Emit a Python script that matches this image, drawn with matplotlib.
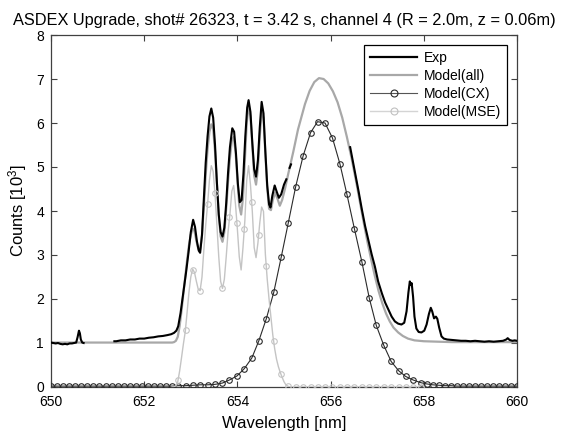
import matplotlib
matplotlib.use("Agg")
import matplotlib.pyplot as plt
from matplotlib.lines import Line2D

plt.rcParams['font.family'] = ['Liberation Sans', 'DejaVu Sans']
plt.rcParams['mathtext.default'] = 'regular'

NaN = float('nan')

# ---------------- data ----------------
title = "ASDEX Upgrade, shot# 26323, t = 3.42 s, channel 4 (R = 2.0m, z = 0.06m)"
xlabel = "Wavelength [nm]"
ylabel = "Counts [10$^3$]"
xticks = [650, 652, 654, 656, 658, 660]
yticks = [0, 1, 2, 3, 4, 5, 6, 7, 8]
labels = ["Exp", "Model(all)", "Model(CX)", "Model(MSE)"]

# experimental spectrum (NaN = no data shown)
exp_wl = [650.00, 650.05, 650.10, 650.15, 650.20, 650.25, 650.30, 650.35, 650.40, 650.45,
          650.50, 650.54, 650.57, 650.60, 650.62, 650.64, 650.67, 650.70, 650.71, 651.36,
          651.40, 651.50, 651.60, 651.70, 651.80, 651.90,
          652.00, 652.10, 652.20, 652.30, 652.40, 652.50, 652.58, 652.64, 652.69, 652.73,
          652.78, 652.84, 652.90, 652.95, 653.00, 653.05, 653.09, 653.13, 653.17, 653.20,
          653.24, 653.28, 653.32, 653.36, 653.40, 653.44, 653.48, 653.52, 653.56, 653.60,
          653.64, 653.68, 653.72, 653.76, 653.80, 653.84, 653.89, 653.93, 653.97, 654.01,
          654.05, 654.09, 654.13, 654.17, 654.21, 654.24, 654.28, 654.32, 654.36, 654.40,
          654.44, 654.48, 654.52, 654.56, 654.60, 654.64, 654.68, 654.71, 654.75, 654.80,
          654.84, 654.89, 654.94, 655.00, 655.05, 655.06, 655.12, 655.15, 655.16,
          656.42, 656.52, 656.60,
          656.67, 656.74, 656.81, 656.88, 656.95, 657.02, 657.10, 657.17, 657.24, 657.31,
          657.38, 657.45, 657.52, 657.58, 657.63, 657.67, 657.70, 657.72, 657.74, 657.77,
          657.80, 657.84, 657.89, 657.95, 658.01, 658.06, 658.11, 658.15, 658.18, 658.22,
          658.26, 658.29, 658.33, 658.38, 658.43, 658.50, 658.60, 658.70, 658.80, 658.90,
          659.00, 659.10, 659.20, 659.30, 659.40, 659.50, 659.60, 659.70, 659.77, 659.80,
          659.84, 659.90, 659.95, 660.00]
exp_counts = [1.01, 1.00, 0.99, 1.00, 0.98, 0.97, 0.98, 0.97, 0.99, 0.99,
              1.00, 1.01, 1.13, 1.28, 1.22, 1.08, 1.01, 1.00, NaN, 1.04,
              1.04, 1.06, 1.06, 1.08, 1.08, 1.10,
              1.10, 1.12, 1.13, 1.15, 1.16, 1.18, 1.20, 1.23, 1.28, 1.38,
              1.68, 2.15, 2.62, 3.05, 3.52, 3.80, 3.64, 3.32, 3.10, 3.05,
              3.45, 4.30, 5.10, 5.70, 6.15, 6.33, 6.12, 5.50, 4.65, 3.92,
              3.52, 3.42, 3.62, 4.18, 4.88, 5.45, 5.88, 5.80, 5.30, 4.62,
              4.20, 4.25, 4.85, 5.70, 6.35, 6.52, 6.25, 5.55, 4.95, 4.78,
              5.15, 5.90, 6.48, 6.22, 5.35, 4.58, 4.15, 4.08, 4.35, 4.58,
              4.45, 4.30, 4.38, 4.60, 4.72, NaN, 4.98, 5.06, NaN,
              5.45, 4.90, 4.45,
              4.04, 3.66, 3.34, 3.02, 2.74, 2.40, 2.13, 1.92, 1.76, 1.60,
              1.49, 1.44, 1.42, 1.46, 1.72, 2.15, 2.40, 2.32, 2.36, 2.05,
              1.60, 1.33, 1.25, 1.24, 1.28, 1.42, 1.66, 1.80, 1.72, 1.56,
              1.60, 1.55, 1.35, 1.15, 1.10, 1.08, 1.07, 1.06, 1.05, 1.05,
              1.04, 1.05, 1.04, 1.03, 1.04, 1.03, 1.04, 1.05, 1.08, 1.11,
              1.07, 1.05, 1.06, 1.05]

all_wl = [650.00, 652.60, 652.64, 652.68, 652.72, 652.76, 652.80, 652.84, 652.88, 652.92,
          652.96, 653.00, 653.04, 653.08, 653.12, 653.16, 653.20, 653.24, 653.28, 653.32,
          653.36, 653.40, 653.44, 653.48, 653.52, 653.56, 653.60, 653.64, 653.68, 653.72,
          653.76, 653.80, 653.84, 653.88, 653.92, 653.96, 654.00, 654.04, 654.08, 654.12,
          654.16, 654.20, 654.24, 654.28, 654.32, 654.36, 654.40, 654.44, 654.48, 654.52,
          654.56, 654.60, 654.64, 654.68, 654.72, 654.76, 654.81, 654.86, 654.91, 654.96,
          655.02, 655.09, 655.20, 655.30, 655.45, 655.55, 655.65, 655.75, 655.85, 655.95,
          656.05, 656.15, 656.25, 656.35, 656.45, 656.55, 656.63, 656.71, 656.79, 656.87,
          656.95, 657.03, 657.11, 657.19, 657.27, 657.35, 657.45, 657.55, 657.66, 657.80,
          658.00, 658.30, 658.60, 660.00]
all_counts = [1.01, 1.01, 1.02, 1.05, 1.14, 1.38, 1.72, 2.12, 2.50, 2.88,
              3.22, 3.46, 3.60, 3.54, 3.32, 3.14, 3.12, 3.45, 4.10, 4.82,
              5.40, 5.80, 5.97, 5.86, 5.35, 4.62, 3.90, 3.42, 3.30, 3.52,
              4.05, 4.68, 5.20, 5.60, 5.68, 5.35, 4.72, 4.12, 3.92, 4.30,
              5.15, 6.00, 6.40, 6.15, 5.50, 4.80, 4.60, 4.95, 5.70, 6.25,
              6.12, 5.30, 4.52, 4.05, 4.02, 4.25, 4.42, 4.28, 4.12, 4.25,
              4.50, 4.84, 5.35, 5.85, 6.43, 6.73, 6.93, 7.02, 7.00, 6.90,
              6.72, 6.47, 6.12, 5.68, 5.20, 4.66, 4.20, 3.74, 3.30, 2.90,
              2.52, 2.18, 1.90, 1.67, 1.49, 1.35, 1.24, 1.16, 1.10, 1.06,
              1.04, 1.03, 1.02, 1.02]

cx_wl = [650.00, 650.13, 650.26, 650.39, 650.52, 650.65, 650.78, 650.91, 651.04, 651.17,
         651.30, 651.43, 651.56, 651.69, 651.82, 651.95, 652.08, 652.21, 652.34, 652.47,
         652.60, 652.73, 652.89, 653.05, 653.20, 653.36, 653.52, 653.68, 653.83, 653.99,
         654.15, 654.31, 654.46, 654.62, 654.78, 654.94, 655.09, 655.25, 655.41, 655.57,
         655.72, 655.88, 656.04, 656.20, 656.35, 656.51, 656.67, 656.83, 656.98, 657.14,
         657.30, 657.46, 657.61, 657.77, 657.93, 658.06, 658.19, 658.32, 658.45, 658.58,
         658.71, 658.84, 658.97, 659.10, 659.23, 659.35, 659.48, 659.61, 659.74, 659.87,
         660.00]
cx_counts = [0.02, 0.02, 0.02, 0.02, 0.02, 0.02, 0.02, 0.02, 0.02, 0.02,
             0.02, 0.02, 0.02, 0.02, 0.02, 0.02, 0.02, 0.02, 0.02, 0.02,
             0.02, 0.03, 0.03, 0.04, 0.05, 0.05, 0.06, 0.09, 0.16, 0.25,
             0.42, 0.66, 1.05, 1.55, 2.15, 2.95, 3.72, 4.55, 5.25, 5.78,
             6.03, 6.00, 5.66, 5.07, 4.38, 3.60, 2.85, 2.02, 1.40, 0.95,
             0.58, 0.37, 0.24, 0.16, 0.10, 0.07, 0.05, 0.04, 0.03, 0.03,
             0.02, 0.02, 0.02, 0.02, 0.02, 0.02, 0.02, 0.02, 0.02, 0.02,
             0.02]

mse_wl = [652.60, 652.64, 652.68, 652.72, 652.76, 652.80, 652.84, 652.88, 652.92, 652.96,
          653.00, 653.04, 653.08, 653.12, 653.16, 653.20, 653.24, 653.28, 653.32, 653.36,
          653.40, 653.44, 653.48, 653.52, 653.56, 653.60, 653.64, 653.68, 653.72, 653.76,
          653.80, 653.84, 653.88, 653.92, 653.96, 654.00, 654.04, 654.08, 654.12, 654.16,
          654.20, 654.24, 654.28, 654.32, 654.36, 654.40, 654.44, 654.48, 654.52, 654.56,
          654.60, 654.64, 654.68, 654.72, 654.76, 654.80, 654.84, 654.88, 654.92, 654.96,
          655.00, 655.04, 655.08, 655.12, 657.93]
mse_counts = [0.00, 0.00, 0.03, 0.12, 0.36, 0.66, 0.97, 1.25, 1.69, 2.15,
              2.50, 2.68, 2.60, 2.40, 2.22, 2.19, 2.50, 3.12, 3.68, 4.15,
              4.70, 5.03, 4.90, 4.39, 3.68, 2.96, 2.40, 2.24, 2.45, 2.96,
              3.53, 3.93, 4.45, 4.58, 4.14, 3.58, 2.96, 2.66, 3.17, 3.78,
              4.70, 5.03, 4.60, 3.99, 3.17, 2.94, 3.27, 3.73, 4.09, 3.99,
              3.02, 2.45, 1.99, 1.58, 1.18, 0.87, 0.63, 0.46, 0.33, 0.22,
              0.12, 0.05, 0.02, 0.00, 0.00]

mse_mk_wl = [652.73, 652.89, 653.05, 653.20, 653.36, 653.52, 653.68, 653.83, 653.99, 654.15,
             654.31, 654.46, 654.62, 654.78, 654.94, 655.09, 655.25, 655.41, 655.57, 655.72,
             655.88, 656.04, 656.20, 656.35, 656.51, 656.67, 656.83, 656.98, 657.14, 657.30,
             657.46, 657.61, 657.77, 657.93]
mse_mk_counts = [0.15, 1.29, 2.66, 2.19, 4.15, 4.40, 2.24, 3.87, 3.72, 3.60,
                 4.21, 3.45, 2.76, 1.05, 0.30, 0.02, 0.00, 0.00, 0.00, 0.00,
                 0.00, 0.00, 0.00, 0.00, 0.00, 0.00, 0.00, 0.00, 0.00, 0.00,
                 0.00, 0.00, 0.00, 0.00]

# ---------------- styles ----------------
c_exp = 'black'
c_all = '#a8a8a8'
c_cx = '#2a2a2a'
c_mse = '#c4c4c4'
c_axis = '#404040'

fig = plt.figure(figsize=(5.62, 4.33), dpi=100)
ax = fig.add_axes([51/562, 46/433, 466/562, 352/433])

ax.plot(all_wl, all_counts, color=c_all, lw=1.6, zorder=2)
ax.plot(exp_wl, exp_counts, color=c_exp, lw=1.5, zorder=3)
ax.plot(cx_wl, cx_counts, color=c_cx, lw=0.8, marker='o', ms=4, mfc='none',
        mec=c_cx, mew=0.8, zorder=4)
ax.plot(mse_wl, mse_counts, color=c_mse, lw=1.0, zorder=5)
ax.plot(mse_mk_wl, mse_mk_counts, ls='none', marker='o', ms=4, mfc='none',
        mec=c_mse, mew=0.8, zorder=5)

ax.set_xlim(650, 660)
ax.set_ylim(0, 8)
ax.set_xticks(xticks)
ax.set_yticks(yticks)
ax.tick_params(direction='in', top=True, right=True, length=4, width=0.8,
               color=c_axis, labelsize=10, labelcolor='black')
ax.tick_params(axis='x', pad=6)
ax.tick_params(axis='y', pad=5)
for s in ax.spines.values():
    s.set_color(c_axis)
    s.set_linewidth(0.9)

ax.set_title(title, fontsize=11.8, pad=7)
ax.set_xlabel(xlabel, fontsize=12, labelpad=5)
ax.set_ylabel(ylabel, fontsize=12, labelpad=5)

handles = [
    Line2D([], [], color=c_exp, lw=1.6),
    Line2D([], [], color=c_all, lw=1.6),
    Line2D([], [], color='#555555', lw=0.8, marker='o', ms=5, mfc='none', mec=c_cx, mew=0.8),
    Line2D([], [], color='#d4d4d4', lw=1.0, marker='o', ms=5, mfc='none', mec='#c0c0c0', mew=0.8),
]
leg = ax.legend(handles, labels, loc='upper right', bbox_to_anchor=(0.9785, 0.9716),
                borderaxespad=0, fontsize=10, handlelength=3.4, handletextpad=0.5,
                labelspacing=0.3, borderpad=0.4, fancybox=False, numpoints=1,
                framealpha=1, edgecolor='black')
leg.get_frame().set_linewidth(0.9)

fig.savefig('out.png', dpi=100)
